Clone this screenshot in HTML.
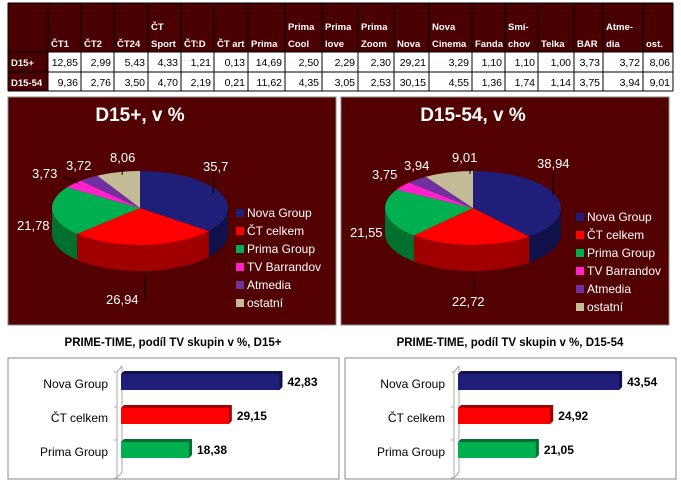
<!DOCTYPE html>
<html><head><meta charset="utf-8"><style>
body{margin:0;width:681px;height:487px;background:#fff;overflow:hidden;font-family:"Liberation Sans",sans-serif;}
</style></head><body>
<svg id="s" width="681" height="487" xmlns="http://www.w3.org/2000/svg" font-family="Liberation Sans, sans-serif">
</svg>
<script>
const S=document.getElementById('s');let h='';
const xs=[8,48,81,114,148,181,214,248,285,322,358,394,429,472,505,538,574,603,643,673];
const hd=[[""],["ČT1"],["ČT2"],["ČT24"],["ČT","Sport"],["ČT:D"],["ČT art"],["Prima"],["Prima","Cool"],["Prima","love"],["Prima","Zoom"],["Nova"],["Nova","Cinema"],["Fanda"],["Smí-","chov"],["Telka"],["BAR"],["Atme-","dia"],["ost."]];
const r1=["D15+","12,85","2,99","5,43","4,33","1,21","0,13","14,69","2,50","2,29","2,30","29,21","3,29","1,10","1,10","1,00","3,73","3,72","8,06"];
const r2=["D15-54","9,36","2,76","3,50","4,70","2,19","0,21","11,62","4,35","3,05","2,53","30,15","4,55","1,36","1,74","1,14","3,75","3,94","9,01"];
h+=`<rect x="8" y="3" width="665" height="49" fill="#4a0000"/>`;
h+=`<rect x="8" y="52" width="40" height="39" fill="#4a0000"/>`;
for(let i=0;i<19;i++){const x=xs[i]+3;
 const t=hd[i];
 if(t.length==1)h+=`<text x="${x}" y="47" font-size="9.5" font-weight="bold" fill="#fff">${t[0]}</text>`;
 else h+=`<text x="${x}" y="30" font-size="9.5" font-weight="bold" fill="#fff">${t[0]}</text><text x="${x}" y="47" font-size="9.5" font-weight="bold" fill="#fff">${t[1]}</text>`;
 if(i==0){h+=`<text x="${x}" y="66" font-size="9.5" font-weight="bold" fill="#fff">${r1[0]}</text><text x="${x}" y="86" font-size="9.5" font-weight="bold" fill="#fff">${r2[0]}</text>`;}
 else{h+=`<text x="${xs[i+1]-3}" y="66" text-anchor="end" font-size="10.5" fill="#000">${r1[i]}</text><text x="${xs[i+1]-3}" y="86" text-anchor="end" font-size="10.5" fill="#000">${r2[i]}</text>`;}
}
for(const x of xs)h+=`<line x1="${x}" y1="3" x2="${x}" y2="91" stroke="#000" stroke-width="1"/>`;
for(const y of [3,52,72,91])h+=`<line x1="8" y1="${y}" x2="673" y2="${y}" stroke="#000" stroke-width="1"/>`;
const cols=["#1f1f7a","#ff0000","#00b050","#ff22cc","#7030a0","#c4bc96"];
const dark=["#10104a","#a00000","#007030","#a01080","#40106a","#8a8060"];
const names=["Nova Group","ČT celkem","Prima Group","TV Barrandov","Atmedia","ostatní"];
function pie(px,title,vals,labels,lp){
 h+=`<rect x="${px}" y="97" width="328" height="228" fill="#520000" stroke="#888"/>`;
 h+=`<text x="${px+132}" y="121" text-anchor="middle" font-size="19" font-weight="bold" fill="#fff">${title}</text>`;
 const cx=px+132,cy=208,rx=88,ry=37,d=26;
 const P=a=>[cx+rx*Math.sin(a),cy-ry*Math.cos(a)];
 let tot=vals.reduce((a,b)=>a+b),a=0,angs=[];
 for(const v of vals){angs.push([a,a+v/tot*2*Math.PI]);a+=v/tot*2*Math.PI;}
 angs.forEach(([a0,a1],i)=>{const s=Math.max(a0,Math.PI/2),e=Math.min(a1,3*Math.PI/2);if(e<=s)return;
  let p='';const n=30;for(let k=0;k<=n;k++){const t=s+(e-s)*k/n;const q=P(t);p+=(k?'L':'M')+q[0]+','+q[1];}
  for(let k=n;k>=0;k--){const t=s+(e-s)*k/n;const q=P(t);p+='L'+q[0]+','+(q[1]+d);}
  h+=`<path d="${p}Z" fill="${dark[i]}"/>`;});
 angs.forEach(([a0,a1],i)=>{const q0=P(a0),q1=P(a1);const lg=(a1-a0)>Math.PI?1:0;
  h+=`<path d="M${cx},${cy}L${q0[0]},${q0[1]}A${rx},${ry} 0 ${lg} 1 ${q1[0]},${q1[1]}Z" fill="${cols[i]}"/>`;});
 labels.forEach(l=>{if(l[3])h+=`<line x1="${l[3][0]}" y1="${l[3][1]}" x2="${l[3][2]}" y2="${l[3][3]}" stroke="#000"/>`;
  h+=`<text x="${l[1]}" y="${l[2]}" font-size="13" fill="#fff">${l[0]}</text>`;});
 names.forEach((n,i)=>{const y=lp[1]+i*18;h+=`<rect x="${lp[0]}" y="${y-8}" width="8" height="8" fill="${cols[i]}"/><text x="${lp[0]+11}" y="${y}" font-size="12" fill="#fff">${n}</text>`;});
}
pie(8,"D15+, v %",[35.7,26.94,21.78,3.73,3.72,8.06],
 [["35,7",203,171,[214,175,213,194]],["26,94",106,304,[145,300,145,275]],["21,78",17,230],["3,73",32,178,[63,177,78,183]],["3,72",66,170],["8,06",110,162,[123,166,122,175]]],[236,217]);
pie(341,"D15-54, v %",[38.94,22.72,21.55,3.75,3.94,9.01],
 [["38,94",537,168,[553,172,553,195]],["22,72",452,306,[474,292,474,278]],["21,55",350,237],["3,75",372,179],["3,94",404,170],["9,01",452,162,[470,166,470,174]]],[576,221]);
function bars(bx,title,vals){
 h+=`<text x="${bx+165}" y="346" text-anchor="middle" font-size="11.5" font-weight="bold" fill="#000">${title}</text>`;
 h+=`<rect x="${bx}" y="358" width="331" height="121" fill="#fff" stroke="#888"/>`;
 const x0=bx+109;
 h+=`<path d="M${x0},372 L${x0+5},366 M${x0},372 L${x0},478 M${x0},478 L${x0+5},472 L${x0+5},366" stroke="#aaa" fill="none"/>`;
 for(const y of [372,407,440,478])h+=`<line x1="${x0-3}" y1="${y}" x2="${x0}" y2="${y}" stroke="#aaa"/>`;
 const labs=["Nova Group","ČT celkem","Prima Group"],ys=[374,408,442],c=["#1f1f7a","#ff0000","#00b050"],dk=["#10104a","#a00000","#007030"];
 vals.forEach((v,i)=>{const w=v*3.7,y=ys[i];
  h+=`<path d="M${x0+4},${y} L${x0+7},${y-3} L${x0+4+w+3},${y-3} L${x0+4+w+3},${y+13} L${x0+4+w},${y+16}Z" fill="${dk[i]}"/>`;
  h+=`<rect x="${x0+4}" y="${y}" width="${w}" height="16" fill="${c[i]}"/>`;
  h+=`<text x="${x0+w+12}" y="${y+12}" font-size="12" font-weight="bold" fill="#000">${String(v.toFixed(2)).replace('.',',')}</text>`;
  h+=`<text x="${x0-9}" y="${y+14}" text-anchor="end" font-size="12" fill="#000">${labs[i]}</text>`;});
}
bars(8,"PRIME-TIME, podíl TV skupin v %, D15+",[42.83,29.15,18.38]);
bars(345,"PRIME-TIME, podíl TV skupin v %, D15-54",[43.54,24.92,21.05]);
S.innerHTML=h;
</script>
</body></html>
